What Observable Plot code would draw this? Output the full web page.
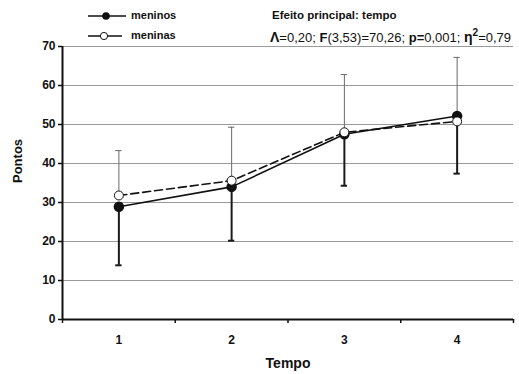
<!DOCTYPE html>
<html><head><meta charset="utf-8">
<script src="https://cdn.jsdelivr.net/npm/d3@7"></script>
<script src="https://cdn.jsdelivr.net/npm/@observablehq/plot@0.6"></script>
<style>
body{margin:0;background:#fff;font-family:"Liberation Sans",Arial,sans-serif;}
#wrap{position:relative;width:519px;height:374px;}
.lg{position:absolute;font-weight:bold;font-size:11px;color:#111;}
.ann{position:absolute;font-size:13px;color:#111;white-space:nowrap;}
</style></head><body>
<div id="wrap"></div>
<script>
const tempos = [1, 2, 3, 4];
const meninosMean = [28.9, 34.0, 47.5, 52.2];
const meninosLow = [13.9, 20.2, 34.3, 37.4];
const meninasMean = [31.8, 35.6, 48.0, 50.8];
const meninasHigh = [43.3, 49.3, 62.8, 67.2];
const yTicks = [0, 10, 20, 30, 40, 50, 60, 70];
const xBoundaries = [0.5, 1.5, 2.5, 3.5, 4.5];

const boys = tempos.map((t, i) => ({t, m: meninosMean[i], lo: meninosLow[i]}));
const girls = tempos.map((t, i) => ({t, m: meninasMean[i], hi: meninasHigh[i]}));
const capW = 0.028;

const chart = Plot.plot({
  width: 519, height: 374,
  marginLeft: 62, marginRight: 6, marginTop: 46, marginBottom: 55,
  style: {fontFamily: '"Liberation Sans", Arial, sans-serif', background: "#fff"},
  x: {domain: [0.5, 4.5]},
  y: {domain: [0, 70]},
  marks: [
    Plot.ruleY(yTicks.filter(d => d > 0), {stroke: "#9a9a9a", strokeWidth: 1}),
    Plot.ruleX([0.5], {y1: 0, y2: 70, stroke: "#111", strokeWidth: 2}),
    Plot.ruleY([0], {stroke: "#111", strokeWidth: 2}),
    Plot.axisY({ticks: yTicks, tickSize: 4, tickPadding: 3, fontWeight: "bold", fontSize: 12, fill: "#111", stroke: "#111", strokeWidth: 1.5, label: null}),
    Plot.axisX({ticks: xBoundaries, tickSize: 4, tickFormat: () => "", stroke: "#111", strokeWidth: 1.5, label: null}),
    Plot.axisX({ticks: tempos, tickSize: 0, tickPadding: 16, fontWeight: "bold", fontSize: 12, fill: "#111", tickFormat: d3.format("d"), label: null}),
    Plot.text(["Pontos"], {frameAnchor: "left", dx: -45, rotate: -90, fontWeight: "bold", fontSize: 13, fill: "#111"}),
    Plot.text(["Tempo"], {frameAnchor: "bottom", dy: 48, fontWeight: "bold", fontSize: 14, fill: "#111"}),
    // meninas error bars (up)
    Plot.ruleX(girls, {x: "t", y1: "m", y2: "hi", stroke: "#6a6a6a", strokeWidth: 1}),
    Plot.ruleY(girls, {y: "hi", x1: d => d.t - capW, x2: d => d.t + capW, stroke: "#6a6a6a", strokeWidth: 1}),
    // meninos error bars (down)
    Plot.ruleX(boys, {x: "t", y1: "m", y2: "lo", stroke: "#1a1a1a", strokeWidth: 2}),
    Plot.ruleY(boys, {y: "lo", x1: d => d.t - capW, x2: d => d.t + capW, stroke: "#1a1a1a", strokeWidth: 2}),
    Plot.line(boys, {x: "t", y: "m", stroke: "#111", strokeWidth: 1.6}),
    Plot.line(girls, {x: "t", y: "m", stroke: "#111", strokeWidth: 1.6, strokeDasharray: "8,4"}),
    Plot.dot(boys, {x: "t", y: "m", r: 4.5, fill: "#111", stroke: "#111"}),
    Plot.dot(girls, {x: "t", y: "m", r: 4.5, fill: "#fff", stroke: "#111", strokeWidth: 1})
  ]
});
const wrap = document.getElementById("wrap");
wrap.appendChild(chart);

const legend = document.createElement("div");
legend.innerHTML = `
<svg style="position:absolute;left:86px;top:8px" width="42" height="36">
  <line x1="2" y1="8" x2="40" y2="8" stroke="#111" stroke-width="1.6"/>
  <circle cx="20" cy="8" r="3.8" fill="#111"/>
  <line x1="2" y1="28" x2="36" y2="28" stroke="#111" stroke-width="1.6"/>
  <circle cx="18" cy="28" r="3.6" fill="#fff" stroke="#111" stroke-width="1"/>
</svg>
<div class="lg" style="left:131px;top:9px">meninos</div>
<div class="lg" style="left:131px;top:29px">meninas</div>
<div class="ann" style="left:272px;top:9px;font-weight:bold;font-size:11.5px">Efeito principal: tempo</div>
<div class="ann" style="left:270px;top:27px"><b style="font-size:14px">&Lambda;</b>=0,20; <b>F</b>(3,53)=70,26; <b>p=</b>0,001; <b style="font-size:14px">&eta;<sup style="font-size:10px">2</sup></b>=0,79</div>
`;
wrap.appendChild(legend);
</script>
</body></html>
